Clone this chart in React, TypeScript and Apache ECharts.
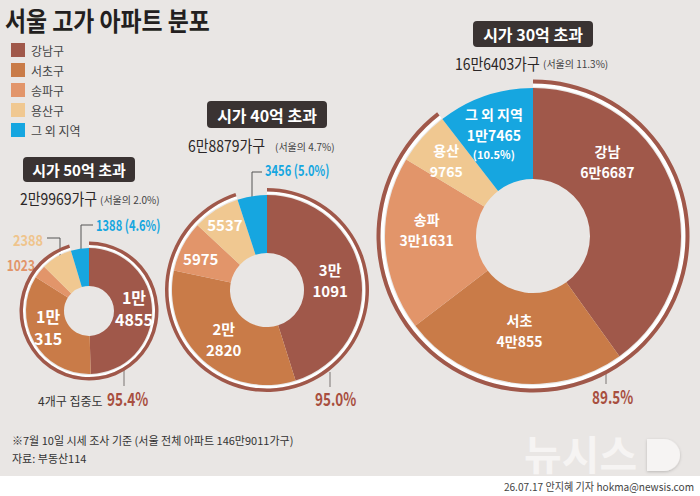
import { useEffect, useRef } from 'react';
import * as echarts from 'echarts';

// ---- data ----
const districts = ['강남구', '서초구', '송파구', '용산구', '그 외 지역'];
const shortNames = ['강남', '서초', '송파', '용산', '그 외 지역'];
const tiers = ['시가 50억 초과', '시가 40억 초과', '시가 30억 초과'];
const over50 = [14855, 10315, 1023, 2388, 1388];
const over40 = [31091, 22820, 5975, 5537, 3456];
const over30 = [66687, 40855, 31631, 9765, 17465];
const seoulTotal = 1469011;
const surveyDate = '7월 10일';
const source = '부동산114';
const credit = '26.07.17 안지혜 기자 hokma@newsis.com';

// ---- style ----
const W = 700;
const H = 496;
const PALETTE = ['#a0584a', '#c97b48', '#e2956a', '#f0c891', '#16a6e0'];
const BROWN = '#a0584a';
const ACCENT = '#a84f3f';
const BG = '#e9e6e4';
const KR = "'Noto Sans CJK KR', sans-serif";
// horizontal squeeze applied to number-heavy texts
const NARROW = 0.8;

const sum = (a: number[]) => a.reduce((s, v) => s + v, 0);
const man = (v: number, sep = '') =>
  v >= 10000 ? `${Math.floor(v / 10000)}만${sep}${v % 10000}` : `${v}`;
const pct = (a: number, b: number) => ((a / b) * 100).toFixed(1);

type Donut = {
  values: number[];
  cx: number;
  cy: number;
  r0: number;
  r: number;
  ring: [number, number, number];
  box: [number, number, number, number, number];
  sub: [number, number, number, number];
  tick: [number, number, number];
  conc: [number, number];
  labelSize: number;
  labelLine: number;
};

const donuts: Donut[] = [
  {
    values: over50, cx: 89, cy: 311, r0: 25, r: 63,
    ring: [1, 3, 6.5],
    box: [23, 157, 112, 25, 15],
    sub: [20, 198, 100, 199],
    tick: [124, 370, 386],
    conc: [107, 399],
    labelSize: 16, labelLine: 22,
  },
  {
    values: over40, cx: 267, cy: 290, r0: 37, r: 95,
    ring: [1, 3.5, 7],
    box: [207, 101, 120, 27, 16],
    sub: [188, 145, 275, 146],
    tick: [330, 372, 387],
    conc: [315, 399],
    labelSize: 15, labelLine: 21,
  },
  {
    values: over30, cx: 533, cy: 236, r0: 57, r: 148,
    ring: [1, 4.5, 8.5],
    box: [473, 21, 120, 26, 16],
    sub: [455, 63, 543, 63],
    tick: [606, 371, 384],
    conc: [592, 397],
    labelSize: 14, labelLine: 21,
  },
];

// fine placement of the in-slice labels
const labelShift: [number, number][][] = [
  [[-2, -2], [0, -7], [0, 0], [0, 0], [0, 0]],
  [[-5, 0], [3, -2], [-5, 0], [-5, -7], [0, 0]],
  [[-26, -42], [2, -10], [-1, -12], [-8, -5], [-5, -3]],
];

function txt(
  text: string, x: number, y: number, size: number, fill: string,
  opts: { weight?: string; align?: string; scaleX?: number } = {}
) {
  return {
    type: 'text',
    x,
    y,
    scaleX: opts.scaleX || 1,
    silent: true,
    style: {
      text,
      fill,
      fontSize: size,
      fontWeight: opts.weight || 'normal',
      fontFamily: KR,
      align: opts.align || 'left',
      textAlign: opts.align || 'left',
      verticalAlign: 'middle',
      textVerticalAlign: 'middle',
    },
  };
}

function buildOption() {
  const series: any[] = [];
  const graphic: any[] = [];

  // white strip at the bottom with the byline
  graphic.push({
    type: 'rect', silent: true, z: -5,
    shape: { x: 0, y: 476, width: W, height: H - 476 },
    style: { fill: '#ffffff' },
  });
  graphic.push(txt(credit, 694, 486, 11, '#444', { align: 'right', scaleX: 0.92 }));

  // agency watermark
  const markStyle = { fill: '#f6f4f3', shadowColor: 'rgba(0,0,0,0.2)', shadowBlur: 3, shadowOffsetY: 1 };
  graphic.push({
    type: 'text', x: 524, y: 452, silent: true,
    style: {
      text: '뉴시스', fontSize: 41, fontWeight: 'bold', fontFamily: KR,
      align: 'left', textAlign: 'left', verticalAlign: 'middle', textVerticalAlign: 'middle',
      ...markStyle,
    },
  });
  graphic.push({
    type: 'rect', silent: true,
    shape: { x: 647, y: 439, width: 33, height: 32, r: [0, 16, 16, 0] },
    style: markStyle,
  });

  // title
  graphic.push(txt('서울 고가 아파트 분포', 5, 20, 26, '#231f20', { weight: 'bold', scaleX: 0.88 }));

  donuts.forEach((d, k) => {
    const total = sum(d.values);
    const four = sum(d.values.slice(0, 4));
    const other = d.values[4];

    // main donut
    series.push({
      type: 'pie',
      name: tiers[k],
      center: [d.cx, d.cy],
      radius: [d.r0, d.r],
      startAngle: 90,
      clockwise: true,
      avoidLabelOverlap: false,
      emphasis: { scale: false },
      labelLine: { show: false },
      label: {
        show: true,
        position: 'inside',
        color: '#fff',
        fontWeight: 'bold',
        fontFamily: KR,
        fontSize: d.labelSize,
        lineHeight: d.labelLine,
        formatter: (p: any) => {
          const v = p.value as number;
          if (k < 2) return man(v, '\n');
          const name = `{t|${shortNames[p.dataIndex]}}\n{t|${man(v)}}`;
          return p.dataIndex === 4 ? `${name}\n{s|(${pct(v, total)}%)}` : name;
        },
        rich: {
          t: { color: '#fff', fontWeight: 'bold', fontFamily: KR, fontSize: d.labelSize, lineHeight: d.labelLine },
          s: { color: '#fff', fontWeight: 'bold', fontFamily: KR, fontSize: 11, lineHeight: 17 },
        },
      },
      labelLayout: (p: any) => {
        const s = labelShift[k][p.dataIndex] || [0, 0];
        return { dx: s[0], dy: s[1] };
      },
      data: d.values.map((v, i) => ({
        name: districts[i],
        value: v,
        itemStyle: { color: PALETTE[i] },
        label: { show: k === 2 || (k === 1 ? i < 4 : i < 2) },
      })),
    });

    // concentration arc (four districts) with its white inner edge
    const [a, b, c] = d.ring;
    [
      { radius: [d.r + a, d.r + b], color: '#ffffff' },
      { radius: [d.r + b, d.r + c], color: BROWN },
    ].forEach((ring) => {
      series.push({
        type: 'pie',
        name: `${tiers[k]} 4개구`,
        center: [d.cx, d.cy],
        radius: ring.radius,
        startAngle: 90,
        clockwise: true,
        silent: true,
        label: { show: false },
        labelLine: { show: false },
        emphasis: { disabled: true },
        data: [
          { name: '4개구', value: four, itemStyle: { color: ring.color } },
          { name: '기타', value: other, itemStyle: { color: 'rgba(0,0,0,0)' } },
        ],
      });
    });

    // tier badge
    const [bx, by, bw, bh, bf] = d.box;
    graphic.push({
      type: 'rect', silent: true,
      shape: { x: bx, y: by, width: bw, height: bh, r: 4 },
      style: { fill: '#3a3332' },
    });
    graphic.push(txt(tiers[k], bx + bw / 2, by + bh / 2, bf, '#ffffff', { weight: 'bold', align: 'center' }));

    // household count and share of Seoul
    const [sx, sy, px, py] = d.sub;
    graphic.push(txt(`${man(total)}가구`, sx, sy, 16, '#2b2627', { scaleX: 0.87 }));
    graphic.push(txt(`(서울의 ${pct(total, seoulTotal)}%)`, px, py, 10, '#444'));

    // tick and concentration value
    const [tx, ty0, ty1] = d.tick;
    graphic.push({
      type: 'line', silent: true,
      shape: { x1: tx, y1: ty0, x2: tx, y2: ty1 },
      style: { stroke: '#7a7472', lineWidth: 1 },
    });
    graphic.push(txt(`${pct(four, total)}%`, d.conc[0], d.conc[1], 18, ACCENT, { weight: 'bold', scaleX: 0.75 }));
  });

  graphic.push(txt('4개구 집중도', 38, 400, 12, '#333'));

  // outside labels for the thin slices
  const t50 = sum(over50);
  const t40 = sum(over40);
  graphic.push(txt(`${over50[4]} (${pct(over50[4], t50)}%)`, 96, 225, 15, PALETTE[4], { weight: 'bold', scaleX: 0.74 }));
  graphic.push({
    type: 'polyline', silent: true,
    shape: { points: [[93, 225], [81, 225], [81, 251]] },
    style: { stroke: '#555', lineWidth: 1, fill: 'none' },
  });
  graphic.push(txt(`${over50[3]}`, 43, 240, 15, '#efc48c', { weight: 'bold', align: 'right', scaleX: 0.85 }));
  graphic.push({
    type: 'polyline', silent: true,
    shape: { points: [[47, 238], [60, 238], [60, 258]] },
    style: { stroke: '#555', lineWidth: 1, fill: 'none' },
  });
  graphic.push(txt(`${over50[2]}`, 35, 264, 15, '#e2956a', { weight: 'bold', align: 'right', scaleX: NARROW }));

  graphic.push(txt(`${over40[4]} (${pct(over40[4], t40)}%)`, 265, 170, 15, PALETTE[4], { weight: 'bold', scaleX: 0.74 }));
  graphic.push({
    type: 'polyline', silent: true,
    shape: { points: [[262, 172], [252, 172], [252, 197]] },
    style: { stroke: '#555', lineWidth: 1, fill: 'none' },
  });

  // footnotes
  graphic.push(txt(`※${surveyDate} 시세 조사 기준 (서울 전체 아파트 ${man(seoulTotal)}가구)`, 12, 440, 11, '#333'));
  graphic.push(txt(`자료: ${source}`, 12, 458, 11, '#333'));

  return {
    animation: false,
    backgroundColor: BG,
    color: PALETTE,
    legend: {
      data: districts,
      orient: 'vertical',
      left: 11,
      top: 43,
      icon: 'rect',
      itemWidth: 14,
      itemHeight: 14,
      itemGap: 6,
      padding: 0,
      selectedMode: false,
      textStyle: { fontSize: 12, color: '#444', fontFamily: KR, padding: [0, 0, 0, 1] },
    },
    series,
    graphic: { elements: graphic },
  };
}

export default function App() {
  const ref = useRef<HTMLDivElement>(null);
  useEffect(() => {
    const chart = echarts.init(ref.current!, null, { renderer: 'svg', width: W, height: H });
    chart.setOption(buildOption() as any);
    return () => chart.dispose();
  }, []);
  return (
    <div
      ref={ref}
      style={{ position: 'absolute', left: 0, top: 0, width: W, height: H }}
    />
  );
}
